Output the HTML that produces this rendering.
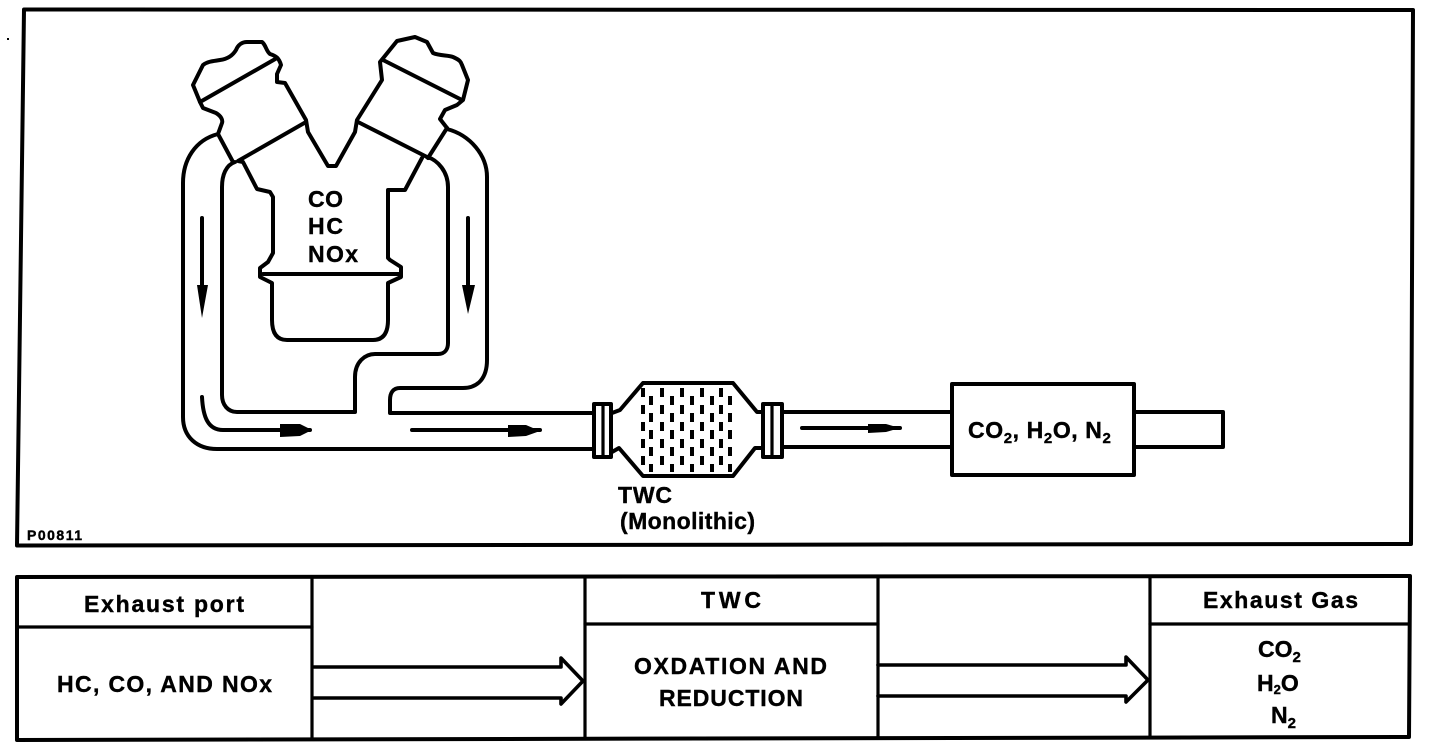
<!DOCTYPE html>
<html><head><meta charset="utf-8"><style>
html,body{margin:0;padding:0;background:#fff;width:1440px;height:748px;overflow:hidden}
svg{display:block}
text{font-family:"Liberation Sans",sans-serif;font-weight:bold;fill:#000;stroke:#000;stroke-width:.4px}
</style></head><body>
<svg width="1440" height="748" viewBox="0 0 1440 748" xmlns="http://www.w3.org/2000/svg">
<rect width="1440" height="748" fill="#fff"/>
<rect x="7" y="38" width="2" height="2" fill="#000"/>
<g fill="none" stroke="#000" stroke-width="4" stroke-linejoin="round" stroke-linecap="round">
<path d="M24 9.5L1413 10L1411 544L17 545.5Z"/>
<path d="M17 577L1410 576L1409 737L17 740Z"/>
<path d="M312 577V739M585 577V738M878 577V738M1150 577V737" stroke-width="3.2"/>
<path d="M18 627H312M585 624H878M1150 624H1409" stroke-width="3.2"/>
<path d="M314 667H561L561 658L583 681L561 704L561 698H314" stroke-width="3.6"/>
<path d="M878 665H1126L1126 657L1148 680L1126 702L1126 696H878" stroke-width="3.6"/>

<path d="M200 102L193 85L203 65C208 61 215 61 220 60C228 59 233 55 236 50C238 45 242 42 247 42H262C266 45 266 51 270 54C276 56 279 58 281 65L277 74V82L285 83L306 120L308 132L328 166H336L355 132L357 120L382 80L380 62L397 41L415 37L427 42L433 53C440 56 448 55 453 57C460 60 461 62 462 65L468 80L463 100L457 105L445 110L440 119L447 128"/>
<path d="M277 58L200 102L203 108L216 113C221 116 223 120 222 123L218 134L233 162"/>
<path d="M306 122L238 161L243 162L257 189L270 192L273 197V253L268 262L260 268L260 277L272 283V320Q272 340 287 340H373Q388 340 388 320V283L401 277V267L390 260L388 258V190H405L422 158"/>
<path d="M383 60L462 100M358 122L427 157M447 128L428 158"/>
<path d="M263 274H400"/>
<path d="M218 134C195 140 183 160 183 183V417C183 437 197 449 217 449H593"/>
<path d="M235 162C226 165 222 175 222 187V395C222 405 228 412 237 412H355V377C355 362 365 354 375 354H438C445 354 448 349 448 343V187C448 172 438 160 427 157"/>
<path d="M447 129C470 135 487 155 487 177V360C487 378 478 388 463 388H400C393 388 390 393 390 400V413H593"/>
<path d="M202 218V290M468 218V285M202 397C203 417 208 430 223 430H310M412 430H540M802 428H900"/>
<path d="M612 413L620 410L643 383H733L757 412H763M612 452L619 448L643 476H733L755 448H763"/>
<rect x="594" y="404" width="17" height="53"/>
<rect x="763" y="404" width="19" height="53"/>
<path d="M603 404V457M772 404V457" stroke-width="3.2"/>
<path d="M783 412H951M783 447H951"/>
<rect x="952" y="384" width="182" height="91"/>
<path d="M1135 412H1223V447H1135"/>
</g>
<g fill="none" stroke="#000" stroke-width="4" stroke-dasharray="9 8">
<path d="M643 388V472"/><path d="M651 396V472"/><path d="M662 388V472"/><path d="M672 396V472"/><path d="M682 388V472"/><path d="M692 396V472"/><path d="M702 388V472"/><path d="M712 396V472"/><path d="M721 388V472"/><path d="M730 396V472"/>
</g>
<g fill="#000">
<path d="M197 285H208L202 318ZM462 285H475L468 314Z"/>
<path d="M280 424H300L312 430L300 436L280 437ZM508 425H526L540 431L526 436L508 437ZM868 424H886L900 428L886 432L868 433Z"/>
</g>
<g font-size="23">
<text x="308" y="207" textLength="35">CO</text>
<text x="308" y="234" textLength="35">HC</text>
<text x="308" y="262" textLength="50">NOx</text>
<text x="618" y="503" textLength="54">TWC</text>
<text x="620" y="529" textLength="135">(Monolithic)</text>
<text x="968" y="438" letter-spacing=".6">CO<tspan font-size="15" dy="5">2</tspan><tspan dy="-5">, H</tspan><tspan font-size="15" dy="5">2</tspan><tspan dy="-5">O, N</tspan><tspan font-size="15" dy="5">2</tspan></text>
<text x="57" y="692" textLength="215">HC, CO, AND NOx</text>
<text x="84" y="612" textLength="160">Exhaust port</text>
<text x="701" y="608" textLength="60">TWC</text>
<text x="634" y="674" textLength="193">OXDATION AND</text>
<text x="659" y="706" textLength="144">REDUCTION</text>
<text x="1203" y="608" textLength="155">Exhaust Gas</text>
<text x="1258" y="657">CO<tspan font-size="15" dy="5">2</tspan></text>
<text x="1257" y="691">H<tspan font-size="13" dy="3">2</tspan><tspan dy="-3">O</tspan></text>
<text x="1271" y="723">N<tspan font-size="15" dy="5">2</tspan></text>
</g>
<text x="27" y="540" font-size="14" textLength="55">P00811</text>
</svg>
</body></html>
